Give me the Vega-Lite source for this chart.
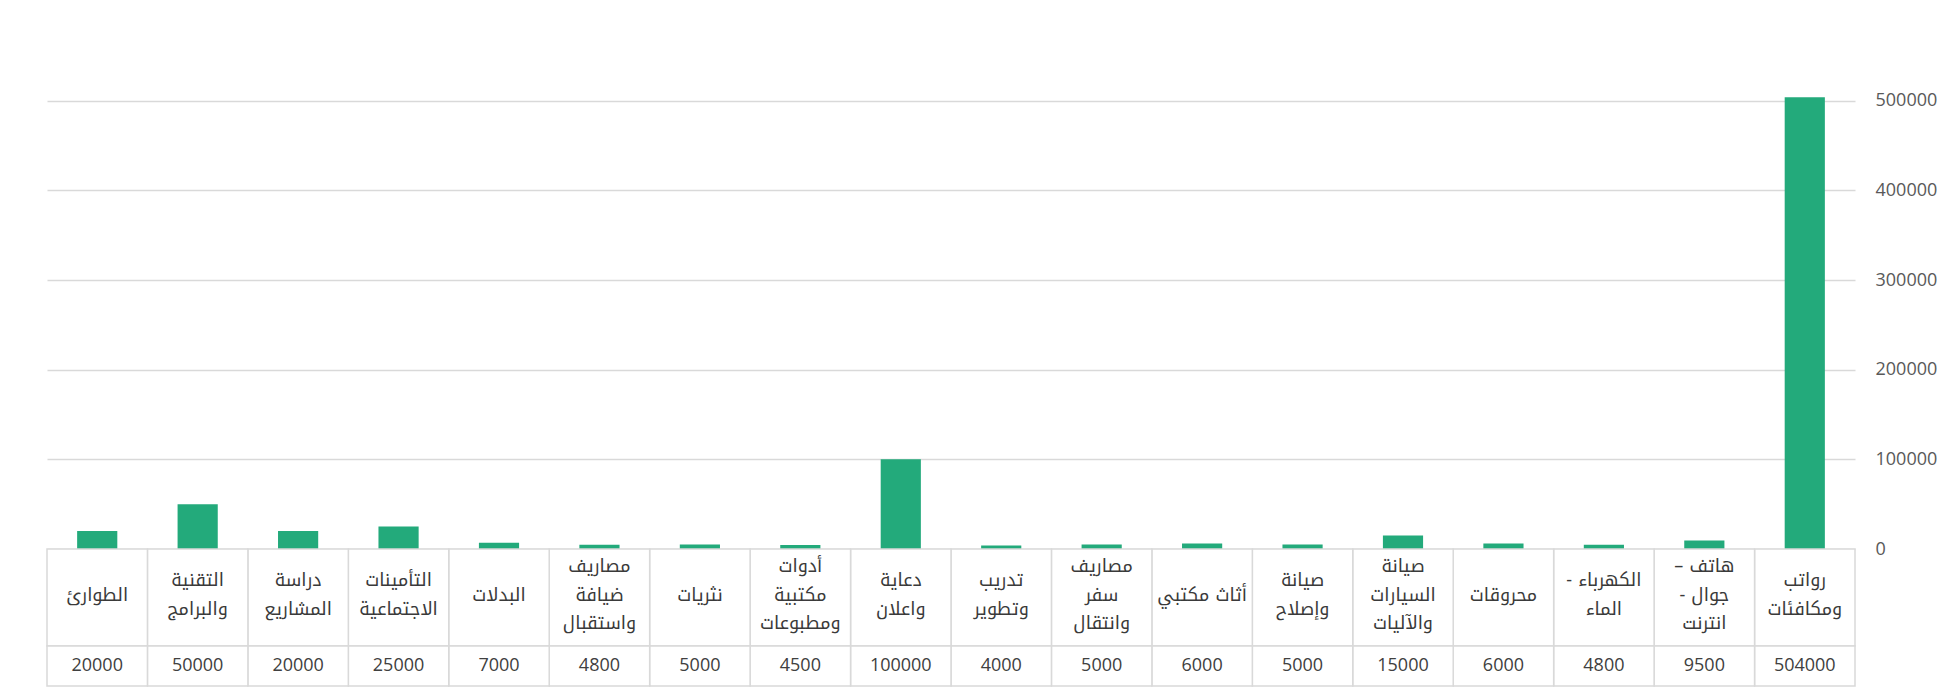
{
  "$schema": "https://vega.github.io/schema/vega-lite/v6.json",
  "background": "white",
  "padding": {"left": 46, "top": 47, "right": 0, "bottom": 0},
  "spacing": 0,
  "bounds": "flush",
  "config": {"view": {"stroke": null}, "concat": {"spacing": 0}},
  "data": {
    "values": [
      {"category": "رواتب\nومكافئات", "amount": 504000},
      {"category": "هاتف –\u200f\nجوال -\u200f\nانترنت", "amount": 9500},
      {"category": "الكهرباء -\u200f\nالماء", "amount": 4800},
      {"category": "محروقات", "amount": 6000},
      {"category": "صيانة\nالسيارات\nوالآليات", "amount": 15000},
      {"category": "صيانة\nوإصلاح", "amount": 5000},
      {"category": "أثاث مكتبي", "amount": 6000},
      {"category": "مصاريف\nسفر\nوانتقال", "amount": 5000},
      {"category": "تدريب\nوتطوير", "amount": 4000},
      {"category": "دعاية\nواعلان", "amount": 100000},
      {"category": "أدوات\nمكتبية\nومطبوعات", "amount": 4500},
      {"category": "نثريات", "amount": 5000},
      {"category": "مصاريف\nضيافة\nواستقبال", "amount": 4800},
      {"category": "البدلات", "amount": 7000},
      {"category": "التأمينات\nالاجتماعية", "amount": 25000},
      {"category": "دراسة\nالمشاريع", "amount": 20000},
      {"category": "التقنية\nوالبرامج", "amount": 50000},
      {"category": "الطوارئ", "amount": 20000}
    ]
  },
  "vconcat": [
    {
      "width": 1808,
      "height": 502,
      "mark": {"type": "bar", "color": "#23aa7b", "clip": false},
      "encoding": {
        "x": {
          "field": "category", "type": "nominal", "sort": null,
          "scale": {"reverse": true, "paddingInner": 0.6, "paddingOuter": 0.3},
          "axis": null
        },
        "y": {
          "field": "amount", "type": "quantitative",
          "scale": {"domain": [0, 560000], "nice": false, "zero": true},
          "axis": {
            "orient": "right", "values": [0, 100000, 200000, 300000, 400000, 500000],
            "format": "d", "grid": true, "domain": false, "ticks": false,
            "labelPadding": 20, "labelFontSize": 18, "labelFont": "Open Sans",
            "labelColor": "#595959", "labelAlign": "left",
            "gridColor": "#d9d9d9", "gridWidth": 1.5, "title": null
          }
        }
      }
    },
    {
      "width": 1808,
      "height": 97,
      "encoding": {
        "x": {
          "field": "category", "type": "nominal", "sort": null,
          "scale": {"reverse": true, "paddingInner": 0, "paddingOuter": 0},
          "axis": null
        }
      },
      "layer": [
        {"mark": {"type": "rect", "fill": "white", "stroke": "#d9d9d9", "strokeWidth": 1.5}},
        {
          "mark": {"type": "text", "lineBreak": "\n", "lineHeight": 28.5, "fontSize": 18, "font": "Noto Kufi Arabic, Noto Sans Arabic, DejaVu Sans", "color": "#3a3a3a", "baseline": "middle"},
          "encoding": {
            "text": {"field": "category"},
            "y": {"value": {"expr": "46.5 - (length(split(datum.category, '\\n')) - 1) * 14.25"}}
          }
        }
      ]
    },
    {
      "width": 1808,
      "height": 40,
      "encoding": {
        "x": {
          "field": "category", "type": "nominal", "sort": null,
          "scale": {"reverse": true, "paddingInner": 0, "paddingOuter": 0},
          "axis": null
        }
      },
      "layer": [
        {"mark": {"type": "rect", "fill": "white", "stroke": "#d9d9d9", "strokeWidth": 1.5}},
        {
          "mark": {"type": "text", "fontSize": 18, "font": "Open Sans", "color": "#404040", "baseline": "middle"},
          "encoding": {"text": {"field": "amount", "type": "quantitative", "format": "d"}}
        }
      ]
    }
  ]
}
